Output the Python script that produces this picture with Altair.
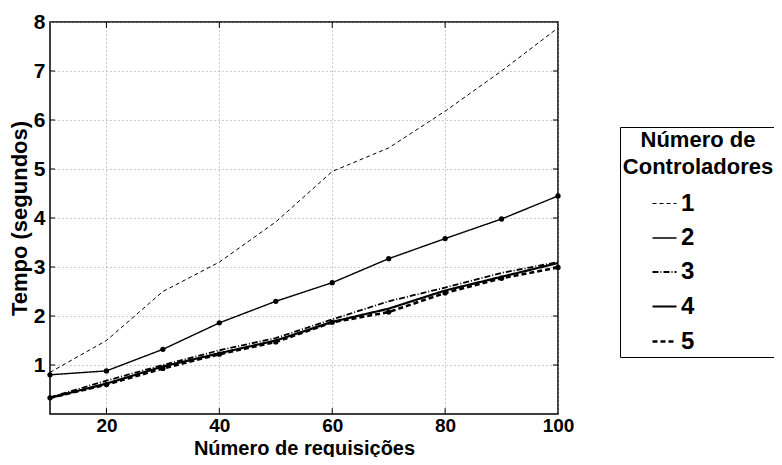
import altair as alt
import pandas as pd

requisicoes = [10, 20, 30, 40, 50, 60, 70, 80, 90, 100]
serie_1 = [0.85, 1.50, 2.50, 3.10, 3.92, 4.95, 5.43, 6.18, 7.00, 7.88]
serie_2 = [0.80, 0.88, 1.32, 1.86, 2.30, 2.68, 3.17, 3.58, 3.98, 4.45]
serie_3 = [0.34, 0.68, 1.00, 1.30, 1.55, 1.93, 2.30, 2.58, 2.88, 3.10]
serie_4 = [0.33, 0.62, 0.97, 1.24, 1.50, 1.88, 2.15, 2.52, 2.80, 3.08]
serie_5 = [0.33, 0.60, 0.93, 1.22, 1.47, 1.87, 2.08, 2.47, 2.77, 2.99]
controladores = ["1", "2", "3", "4", "5"]
x_ticks = [20, 40, 60, 80, 100]
y_ticks = [1, 2, 3, 4, 5, 6, 7, 8]

series = [serie_1, serie_2, serie_3, serie_4, serie_5]
rows = []
for c, vals in zip(controladores, series):
    for r, t in zip(requisicoes, vals):
        rows.append({"req": r, "tempo": t, "ctrl": c})
df = pd.DataFrame(rows)

FONT = "Liberation Sans"
XT = "Número de requisições"
YT = "Tempo (segundos)"

xs = alt.Scale(domain=[10, 100], nice=False, zero=False)
ys = alt.Scale(domain=[0, 8], nice=False, zero=False)

legend_def = alt.Legend(
    title=["Número de", "Controladores"],
    orient="none", legendX=570, legendY=105,
    symbolType="stroke", symbolSize=576, symbolStrokeColor="black",
    symbolOffset=-50,
    labelFontSize=24, labelFont=FONT, labelFontWeight="bold",
    labelColor="black", labelOffset=3,
    titleFontSize=22, titleFont=FONT, titleFontWeight="bold",
    titleColor="black", titleAnchor="middle", titleLineHeight=27,
    titlePadding=12, rowPadding=9, padding=3,
    strokeColor="black", fillColor="white",
)

lines = alt.Chart(df).mark_line(color="black").encode(
    x=alt.X("req:Q", scale=xs, title=XT,
            axis=alt.Axis(values=x_ticks, labelFlush=False)),
    y=alt.Y("tempo:Q", scale=ys, title=YT, axis=alt.Axis(values=y_ticks)),
    strokeDash=alt.StrokeDash(
        "ctrl:N",
        scale=alt.Scale(domain=controladores,
                        range=[[4, 3], [1, 0], [6, 2, 1, 2], [1, 0], [5, 3]]),
        legend=legend_def,
    ),
    strokeWidth=alt.StrokeWidth(
        "ctrl:N",
        scale=alt.Scale(domain=controladores, range=[1, 2.6, 1, 1, 1.5]),
        legend=legend_def,
    ),
)

points = alt.Chart(df).transform_filter(
    alt.FieldOneOfPredicate(field="ctrl", oneOf=["2", "5"])
).mark_point(filled=True, color="black", size=28, opacity=1).encode(
    x=alt.X("req:Q", scale=xs, title=XT),
    y=alt.Y("tempo:Q", scale=ys, title=YT),
)

xt_df = pd.DataFrame({"req": x_ticks[:-1]})
yt_df = pd.DataFrame({"tempo": y_ticks[:-1]})

tick_bottom = alt.Chart(xt_df).mark_rule(color="black", strokeWidth=1).encode(
    x=alt.X("req:Q", scale=xs, title=XT), y=alt.datum(0), y2=alt.datum(0.12))
tick_top = alt.Chart(xt_df).mark_rule(color="black", strokeWidth=1).encode(
    x=alt.X("req:Q", scale=xs, title=XT), y=alt.datum(8), y2=alt.datum(7.88))
tick_left = alt.Chart(yt_df).mark_rule(color="black", strokeWidth=1).encode(
    y=alt.Y("tempo:Q", scale=ys, title=YT), x=alt.datum(10), x2=alt.datum(10.9))
tick_right = alt.Chart(yt_df).mark_rule(color="black", strokeWidth=1).encode(
    y=alt.Y("tempo:Q", scale=ys, title=YT), x=alt.datum(100), x2=alt.datum(99.1))

chart = alt.layer(
    lines, points, tick_bottom, tick_top, tick_left, tick_right
).properties(
    width=508, height=392,
    autosize=alt.AutoSizeParams(type="none"),
    padding={"left": 42, "top": 14, "right": 216, "bottom": 43},
).configure_view(
    stroke="black", strokeWidth=1.5
).configure_axis(
    domain=False, ticks=False,
    grid=True, gridColor="#9a9a9a", gridDash=[1, 3], gridWidth=1,
    labelFont=FONT, labelFontSize=21, labelFontWeight="bold", labelColor="black",
    titleFont=FONT, titleFontSize=22, titleFontWeight="bold", titleColor="black",
).configure_axisX(
    labelPadding=2, labelFontSize=19, titleFontSize=20,
    titleBaseline="alphabetic", titleY=40,
).configure_axisY(
    labelPadding=5, titlePadding=2,
)

chart.save("out.html", embed_options={"renderer": "svg", "actions": False})
